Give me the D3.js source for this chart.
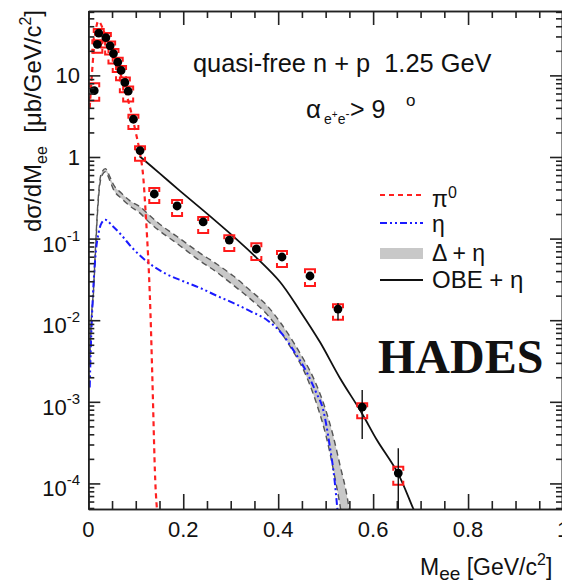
<!DOCTYPE html>
<html>
<head>
<meta charset="utf-8">
<script src="https://cdn.jsdelivr.net/npm/d3@7"></script>
<style>
  html, body { margin: 0; padding: 0; background: #fff; }
  svg { display: block; }
  text { font-family: "Liberation Sans", Arial, Helvetica, sans-serif; fill: #111; }
</style>
</head>
<body>
<svg id="chart" width="562" height="581"></svg>
<script>
// ---- data -------------------------------------------------------------
// measured dielectron spectrum (black points) with statistical and systematic errors
const dataX   = [0.0125, 0.019, 0.022, 0.037, 0.046, 0.053, 0.062, 0.069, 0.077, 0.084, 0.095, 0.109, 0.139, 0.187, 0.242, 0.297, 0.354, 0.408, 0.467, 0.526, 0.577, 0.653];
const dataY   = [6.5, 24, 33, 29, 23, 18.5, 14.5, 11.5, 8.2, 6.4, 2.9, 1.2, 0.352, 0.251, 0.160, 0.096, 0.0746, 0.0595, 0.0348, 0.0137, 8.6e-4, 1.34e-4];
const statHi  = [6.8, 25, 34.5, 30, 24, 19.3, 15.1, 12.0, 8.6, 6.7, 3.05, 1.27, 0.37, 0.265, 0.169, 0.102, 0.080, 0.064, 0.0375, 0.0163, 1.4e-3, 2.7e-4];
const statLo  = [6.2, 23, 31.5, 28, 22, 17.7, 13.9, 11.0, 7.8, 6.1, 2.75, 1.13, 0.335, 0.237, 0.151, 0.090, 0.069, 0.055, 0.032, 0.0100, 3.5e-4, 1e-6];
const sysHi   = [8.0, 27, 37, 33, 26, 21, 16.5, 13, 9.4, 7.3, 3.3, 1.35, 0.417, 0.297, 0.184, 0.110, 0.0877, 0.0706, 0.0421, 0.0157, 9.6e-4, 1.6e-4];
const sysLo   = [4.9, 19, 26, 22, 18, 14, 11, 8.7, 6.2, 4.8, 2.2, 0.9, 0.273, 0.189, 0.117, 0.0707, 0.0548, 0.0448, 0.0263, 0.0101, 6.3e-4, 9.6e-5];

// pi0 Dalitz contribution
const piX = [0.003, 0.006, 0.010, 0.014, 0.018, 0.021, 0.025, 0.030, 0.036, 0.043, 0.050, 0.060, 0.070, 0.080, 0.090, 0.100, 0.109, 0.116, 0.120, 0.124, 0.128, 0.131, 0.135, 0.141, 0.146];
const piY = [4.0, 7.5, 16, 30, 42, 46, 44, 38, 31, 25, 20, 14, 9.5, 6.0, 3.6, 2.0, 1.1, 0.55, 0.25, 0.10, 0.035, 0.012, 0.0019, 1.1e-4, 4e-5];

// eta Dalitz contribution
const etaX = [0.003, 0.005, 0.008, 0.012, 0.016, 0.022, 0.028, 0.036, 0.050, 0.070, 0.090, 0.124, 0.160, 0.200, 0.236, 0.270, 0.305, 0.340, 0.377, 0.410, 0.432, 0.461, 0.480, 0.495, 0.509, 0.518, 0.526];
const etaY = [0.0015, 0.004, 0.012, 0.035, 0.07, 0.12, 0.155, 0.17, 0.145, 0.11, 0.08, 0.052, 0.038, 0.030, 0.0248, 0.020, 0.0163, 0.013, 0.010, 0.0066, 0.0043, 0.00225, 0.0013, 7.9e-4, 2.8e-4, 1.2e-4, 4e-5];

// Delta + eta band (lower / upper edge)
const dX  = [0.003, 0.006, 0.011, 0.015, 0.019, 0.025, 0.030, 0.036, 0.045, 0.053, 0.070, 0.088, 0.109, 0.130, 0.152, 0.187, 0.236, 0.270, 0.305, 0.340, 0.377, 0.405, 0.432, 0.450, 0.467, 0.485, 0.500, 0.515, 0.530, 0.545, 0.555];
const dLo = [0.0028, 0.0085, 0.022, 0.066, 0.19, 0.49, 0.61, 0.66, 0.52, 0.40, 0.31, 0.25, 0.205, 0.155, 0.122, 0.087, 0.053, 0.039, 0.027, 0.0185, 0.0117, 0.0072, 0.0041, 0.0027, 0.0016, 8e-4, 4e-4, 1.6e-4, 5.5e-5, 1.5e-5, 8e-6];
const dHi = [0.0032, 0.0095, 0.024, 0.074, 0.21, 0.55, 0.67, 0.72, 0.58, 0.46, 0.36, 0.29, 0.245, 0.19, 0.148, 0.106, 0.066, 0.049, 0.035, 0.0235, 0.015, 0.0093, 0.0054, 0.0036, 0.0024, 0.0014, 8e-4, 4e-4, 1.7e-4, 7e-5, 3e-5];

// OBE + eta (solid)
const obeX = [0.108, 0.151, 0.193, 0.242, 0.296, 0.355, 0.404, 0.446, 0.488, 0.530, 0.576, 0.608, 0.652, 0.684, 0.695];
const obeY = [1.02, 0.625, 0.385, 0.222, 0.119, 0.0578, 0.0294, 0.0130, 0.0054, 0.00196, 7.3e-4, 3.4e-4, 1.34e-4, 5.0e-5, 3.6e-5];

// axis ticks
const xMajor = [0, 0.2, 0.4, 0.6, 0.8, 1.0];
const xMajorLabels = ["0", "0.2", "0.4", "0.6", "0.8", "1"];
const yMajor = [1e-4, 1e-3, 1e-2, 1e-1, 1, 10];
const yMajorBase = ["10", "10", "10", "10", "1", "10"];
const yMajorExp  = ["-4", "-3", "-2", "-1", "", ""];

// ---- layout ----------------------------------------------------------
const svg = d3.select("#chart");
const padL = 88.3, padR = 563, padT = 11, padB = 509;

const x = d3.scaleLinear().domain([0, 1]).range([padL, padR]);
const y = d3.scaleLog().domain([4.86e-5, 61.5]).range([padB, padT]);

svg.append("defs").append("clipPath").attr("id", "plotClip")
  .append("rect").attr("x", padL).attr("y", padT).attr("width", padR - padL).attr("height", padB - padT);

const plot = svg.append("g").attr("clip-path", "url(#plotClip)");

// Delta + eta band
const bandRows = dX.map((v, i) => ({ x: v, lo: dLo[i], hi: dHi[i] }));
plot.append("path")
  .datum(bandRows)
  .attr("d", d3.area().x(d => x(d.x)).y0(d => y(d.lo)).y1(d => y(d.hi)).curve(d3.curveMonotoneX))
  .attr("fill", "#c8c8c8").attr("stroke", "none");
["lo", "hi"].forEach(k => {
  plot.append("path")
    .datum(bandRows)
    .attr("d", d3.line().x(d => x(d.x)).y(d => y(d[k])).curve(d3.curveMonotoneX))
    .attr("fill", "none").attr("stroke", "#555").attr("stroke-width", 1.4)
    .attr("stroke-dasharray", "6,4");
});

// eta
plot.append("path")
  .datum(etaX.map((v, i) => [v, etaY[i]]))
  .attr("d", d3.line().x(d => x(d[0])).y(d => y(d[1])).curve(d3.curveMonotoneX))
  .attr("fill", "none").attr("stroke", "#1a1aff").attr("stroke-width", 2)
  .attr("stroke-dasharray", "7,3,2,3,2,3");

// OBE + eta
plot.append("path")
  .datum(obeX.map((v, i) => [v, obeY[i]]))
  .attr("d", d3.line().x(d => x(d[0])).y(d => y(d[1])).curve(d3.curveCatmullRom.alpha(0.5)))
  .attr("fill", "none").attr("stroke", "#111").attr("stroke-width", 1.8);

// pi0
plot.append("path")
  .datum(piX.map((v, i) => [v, piY[i]]))
  .attr("d", d3.line().x(d => x(d[0])).y(d => y(d[1])).curve(d3.curveMonotoneX))
  .attr("fill", "none").attr("stroke", "#ff2020").attr("stroke-width", 2.2)
  .attr("stroke-dasharray", "5,4");

// data: systematic brackets, stat bars, points
const pts = dataX.map((v, i) => ({ x: v, y: dataY[i], sh: sysHi[i], sl: sysLo[i], eh: statHi[i], el: statLo[i] }));
const ptG = plot.append("g");
ptG.selectAll("path.sys").data(pts).join("path")
  .attr("class", "sys")
  .attr("d", d => {
    const cx = x(d.x), yt = y(d.sh), yb = y(d.sl), w = 5, l = 4;
    return `M${cx - w},${yt + l}V${yt}H${cx + w}V${yt + l}` +
           `M${cx - w},${yb - l}V${yb}H${cx + w}V${yb - l}`;
  })
  .attr("fill", "none").attr("stroke", "#ff1a1a").attr("stroke-width", 2);
ptG.selectAll("line.stat").data(pts).join("line")
  .attr("class", "stat")
  .attr("x1", d => x(d.x)).attr("x2", d => x(d.x))
  .attr("y1", d => y(d.eh)).attr("y2", d => Math.min(padB, y(d.el)))
  .attr("stroke", "#111").attr("stroke-width", 1.4);
ptG.selectAll("circle").data(pts).join("circle")
  .attr("cx", d => x(d.x)).attr("cy", d => y(d.y)).attr("r", 4.4)
  .attr("fill", "#000");

// ---- axes ------------------------------------------------------------
const yMinor = [];
for (let e = -5; e <= 1; e++) for (let m = 2; m <= 9; m++) {
  const v = m * Math.pow(10, e);
  if (v > y.domain()[0] && v < y.domain()[1]) yMinor.push(v);
}
const xMinor = d3.range(0, 20).map(i => i * 0.05).filter(v => Math.abs(v / 0.2 - Math.round(v / 0.2)) > 1e-6);

const axStyle = g => g.selectAll("path, line").attr("stroke", "#222").attr("stroke-width", 1.6);

svg.append("g").attr("transform", `translate(${padL},0)`)
  .call(d3.axisLeft(y).tickValues(yMajor).tickSize(-12).tickSizeOuter(0).tickFormat(""))
  .call(axStyle);
svg.append("g").attr("transform", `translate(${padL},0)`)
  .call(d3.axisLeft(y).tickValues(yMinor).tickSize(-6).tickSizeOuter(0).tickFormat(""))
  .call(axStyle);
svg.append("g").attr("transform", `translate(${padR - 1},0)`)
  .call(d3.axisRight(y).tickValues(yMajor).tickSize(-12).tickSizeOuter(0).tickFormat(""))
  .call(axStyle);
svg.append("g").attr("transform", `translate(${padR - 1},0)`)
  .call(d3.axisRight(y).tickValues(yMinor).tickSize(-6).tickSizeOuter(0).tickFormat(""))
  .call(axStyle);
svg.append("g").attr("transform", `translate(0,${padB})`)
  .call(d3.axisBottom(x).tickValues(xMajor).tickSize(-15).tickSizeOuter(0).tickFormat(""))
  .call(axStyle);
svg.append("g").attr("transform", `translate(0,${padB})`)
  .call(d3.axisBottom(x).tickValues(xMinor).tickSize(-8).tickSizeOuter(0).tickFormat(""))
  .call(axStyle);
svg.append("g").attr("transform", `translate(0,${padT})`)
  .call(d3.axisTop(x).tickValues(xMajor).tickSize(-14).tickSizeOuter(0).tickFormat(""))
  .call(axStyle);
svg.append("g").attr("transform", `translate(0,${padT})`)
  .call(d3.axisTop(x).tickValues(xMinor).tickSize(-7).tickSizeOuter(0).tickFormat(""))
  .call(axStyle);

// tick labels
xMajor.forEach((v, i) => {
  svg.append("text").attr("x", x(v)).attr("y", 537).attr("text-anchor", "middle")
    .attr("font-size", 22).text(xMajorLabels[i]);
});
yMajor.forEach((v, i) => {
  const t = svg.append("text").attr("text-anchor", "end").attr("font-size", 22).attr("x", 80);
  if (yMajorExp[i]) {
    t.attr("y", y(v) + 13);
    t.append("tspan").text(yMajorBase[i]);
    t.append("tspan").attr("dy", -11).attr("font-size", 15).text(yMajorExp[i]);
  } else {
    t.attr("y", y(v) + 8).text(yMajorBase[i]);
  }
});

// axis titles
const yt = svg.append("text").attr("transform", "translate(41,10) rotate(-90)")
  .attr("text-anchor", "end").attr("font-size", 24).style("white-space", "pre");
yt.append("tspan").text("dσ/dM");
yt.append("tspan").attr("dy", 6).attr("font-size", 16).text("ee");
yt.append("tspan").attr("dy", -6).text("  [μb/GeV/c");
yt.append("tspan").attr("dy", -10).attr("font-size", 16).text("2");
yt.append("tspan").attr("dy", 10).text("]");

const xt = svg.append("text").attr("x", 420).attr("y", 575)
  .attr("font-size", 23).style("white-space", "pre");
xt.append("tspan").text("M");
xt.append("tspan").attr("dy", 5).attr("font-size", 19).text("ee");
xt.append("tspan").attr("dy", -5).text(" [GeV/c");
xt.append("tspan").attr("dy", -10).attr("font-size", 16).text("2");
xt.append("tspan").attr("dy", 10).text("]");

// annotations
svg.append("text").attr("x", 193).attr("y", 72).attr("font-size", 25.4)
  .style("white-space", "pre").text("quasi-free n + p  1.25 GeV");

const ang = svg.append("g");
ang.append("text").attr("x", 306).attr("y", 118).attr("font-size", 26).text("α");
const sub = ang.append("text").attr("x", 324).attr("y", 124).attr("font-size", 14);
sub.append("tspan").text("e");
sub.append("tspan").attr("dy", -6).attr("font-size", 10).text("+");
sub.append("tspan").attr("dy", 6).text("e");
sub.append("tspan").attr("dy", -6).attr("font-size", 12).text("-");
ang.append("text").attr("x", 350).attr("y", 118).attr("font-size", 25).text("> 9");
ang.append("text").attr("x", 406).attr("y", 106).attr("font-size", 17).text("o");

// legend
const lg = svg.append("g");
const lx0 = 380, lx1 = 423, tx = 432;
lg.append("line").attr("x1", lx0).attr("x2", lx1).attr("y1", 195).attr("y2", 195)
  .attr("stroke", "#ff2020").attr("stroke-width", 2).attr("stroke-dasharray", "5,4");
const t1 = lg.append("text").attr("x", tx).attr("y", 207).attr("font-size", 23);
t1.append("tspan").text("π");
t1.append("tspan").attr("dy", -9).attr("font-size", 16).text("0");
lg.append("line").attr("x1", lx0).attr("x2", lx1).attr("y1", 223).attr("y2", 223)
  .attr("stroke", "#1a1aff").attr("stroke-width", 2).attr("stroke-dasharray", "7,3,2,3,2,3");
lg.append("text").attr("x", tx).attr("y", 232).attr("font-size", 23).text("η");
lg.append("rect").attr("x", lx0).attr("y", 248).attr("width", lx1 - lx0).attr("height", 11)
  .attr("fill", "#c8c8c8");
lg.append("text").attr("x", tx).attr("y", 261).attr("font-size", 23).text("Δ + η");
lg.append("line").attr("x1", lx0).attr("x2", lx1).attr("y1", 280).attr("y2", 280)
  .attr("stroke", "#111").attr("stroke-width", 1.8);
lg.append("text").attr("x", tx).attr("y", 288).attr("font-size", 24).text("OBE + η");

svg.append("text").attr("x", 378).attr("y", 373)
  .style("font-family", "'Liberation Serif', 'Times New Roman', serif")
  .attr("font-weight", "bold").attr("font-size", 48).text("HADES");
</script>
</body>
</html>
